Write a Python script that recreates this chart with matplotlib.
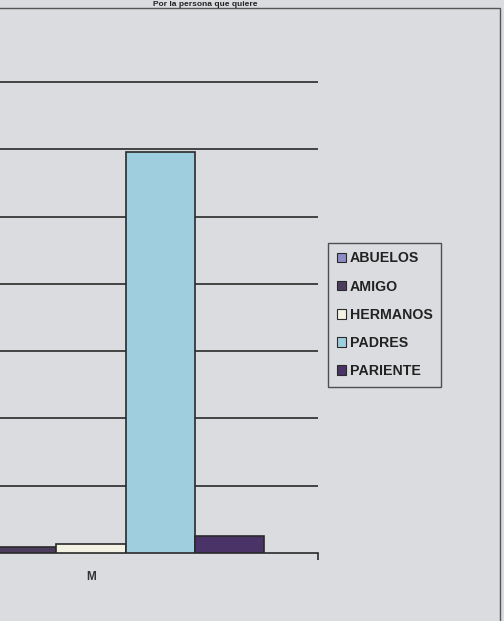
import matplotlib.pyplot as plt
import matplotlib.patches as mpatches
import numpy as np

series = ['ABUELOS', 'AMIGO', 'HERMANOS', 'PADRES', 'PARIENTE']
colors = ['#8c8cc6', '#4e3c5e', '#f4f2e2', '#9fcfdf', '#4a3366']
values = [1.0, 0.9, 1.3, 59.6, 2.5]
categories = ['M']
title = 'Por la persona que quiere'

BG = '#dadcdf'
INK = '#2a2a2a'
FONT = ['Liberation Sans', 'DejaVu Sans']

fig = plt.figure(figsize=(5.04, 6.21), dpi=100, facecolor=BG)
# plot area runs off the left edge of the photo
ax = fig.add_axes([-136 / 504, 68 / 621, 454 / 504, 472 / 621])
ax.set_facecolor(BG)

w = 0.152
x0 = np.arange(len(categories))
for i, (name, c, v) in enumerate(zip(series, colors, values)):
    ax.bar(x0 + (i - 2) * w, [v], width=w, color=c, edgecolor=INK,
           linewidth=1.2, label=name, zorder=3)

ax.set_xlim(-0.5, 0.5)
ax.set_ylim(0, 70.15)
ax.set_yticks(np.arange(10, 71, 10))
ax.yaxis.grid(True, color=INK, linewidth=1.2, zorder=0)
ax.tick_params(axis='y', length=0, labelleft=False)
for s in ['top', 'right', 'left']:
    ax.spines[s].set_visible(False)
ax.spines['bottom'].set_color(INK)
ax.spines['bottom'].set_linewidth(1.2)
ax.set_xticks([0.5])
ax.set_xticklabels([''])
ax.tick_params(axis='x', length=5, width=1.2, color=INK, direction='out')
ax.text(0, -0.05, categories[0], transform=ax.get_xaxis_transform(),
        ha='center', va='center', fontsize=8.5, fontweight='bold',
        family=FONT, color='#333333')

# outer chart frame and title at the top edge
fig.patches.append(mpatches.Rectangle((-0.1, -0.1), 0.1 + 500 / 504, 0.1 + 613 / 621,
                                      transform=fig.transFigure, fill=False,
                                      edgecolor='#555555', linewidth=1.0))
fig.text(205 / 504, 1 - 4 / 621, title, ha='center', va='center',
         fontsize=6, fontweight='bold', color='#222222', family=FONT)

handles = [mpatches.Patch(facecolor=c, edgecolor=INK, linewidth=0.8) for c in colors]
leg = fig.legend(handles, series, loc='upper left',
                 bbox_to_anchor=(328 / 504, 1 - 243 / 621),
                 frameon=True, fancybox=False, edgecolor=INK, facecolor=BG,
                 handlelength=0.65, handleheight=0.65, handletextpad=0.3,
                 labelspacing=1.0, borderpad=0.6, borderaxespad=0,
                 prop={'family': FONT, 'weight': 'bold', 'size': 10.2})
leg.get_frame().set_linewidth(1.0)
for t in leg.get_texts():
    t.set_color('#222222')

fig.savefig('out.png', dpi=100, facecolor=BG)
